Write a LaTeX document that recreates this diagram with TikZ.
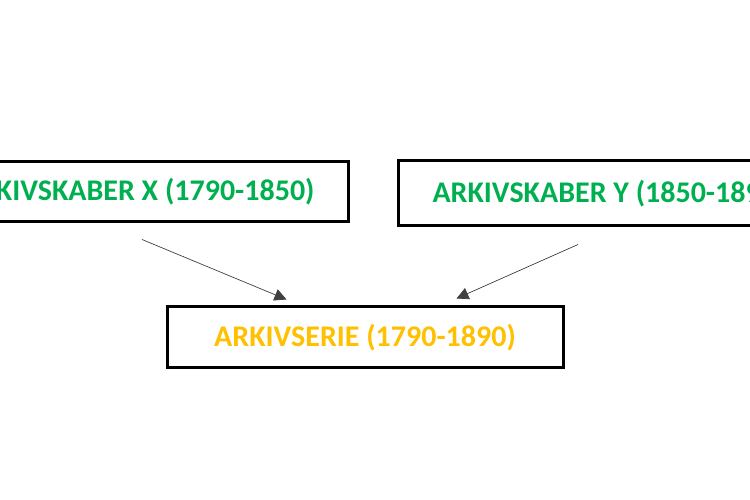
\documentclass[tikz,border=0pt]{standalone}
\usepackage{fontspec}
\setmainfont{Carlito}
\usetikzlibrary{arrows.meta}
\usetikzlibrary{positioning}
\definecolor{skabergreen}{HTML}{00B050}
\definecolor{serieorange}{HTML}{FFC000}

\begin{document}
\begin{tikzpicture}[x=1pt,y=1pt]

\tikzstyle{archive}=[draw, line width=3pt, inner xsep=34pt, font=\fontsize{30}{36}\selectfont\bfseries]
\tikzstyle{line}=[draw, line width=0.7pt, black!75, -{Triangle[length=12pt,width=12pt]}]

\clip (0,0) rectangle (750,500);
\useasboundingbox (0,0) rectangle (750,500);

\node[archive, text=serieorange, minimum width=396pt, minimum height=61pt] (serie) at (365,162.5) {ARKIVSERIE (1790-1890)};
\node[archive, text=skabergreen, minimum height=60pt, anchor=east] (skaber_x) at (350,308) {ARKIVSKABER X (1790-1850)};
\node[archive, text=skabergreen, minimum height=65pt, anchor=west] (skaber_y) at (397,306.5) {ARKIVSKABER Y (1850-1890)};

\coordinate (skaber_x_out) at ([xshift=-208pt,yshift=-16pt]skaber_x.south east);
\coordinate (serie_in_x) at ([xshift=121pt,yshift=6pt]serie.north west);
\coordinate (skaber_y_out) at ([xshift=181pt,yshift=-17pt]skaber_y.south west);
\coordinate (serie_in_y) at ([xshift=-108pt,yshift=7pt]serie.north east);

\path[line] (skaber_x_out) -- (serie_in_x);
\path[line] (skaber_y_out) -- (serie_in_y);

\end{tikzpicture}
\end{document}
